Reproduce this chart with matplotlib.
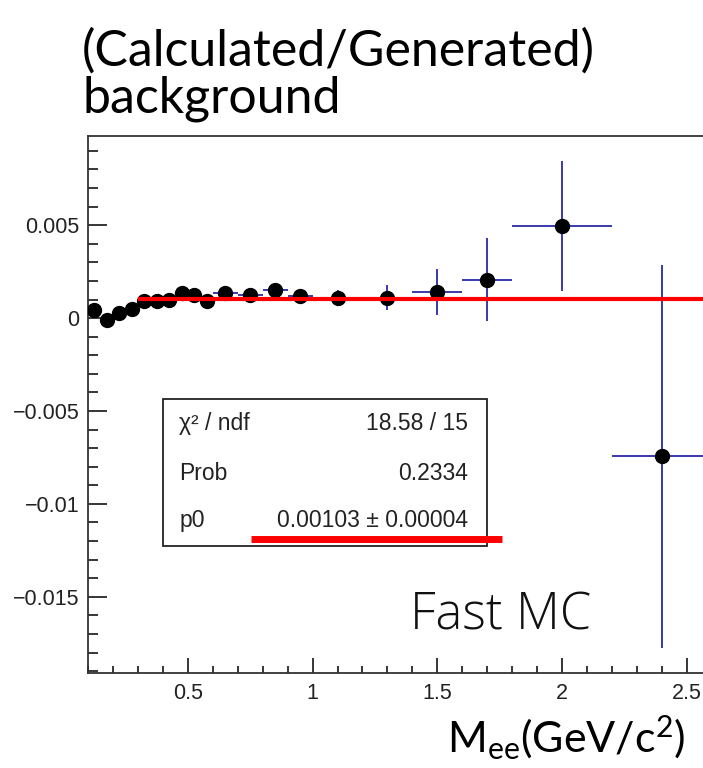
import numpy as np
import matplotlib
matplotlib.use('Agg')
import matplotlib.pyplot as plt
from matplotlib.lines import Line2D
from matplotlib.patches import Rectangle
from matplotlib.ticker import MultipleLocator, FixedLocator, FuncFormatter

# ==========================================
# data
# ==========================================
mass_centers = [0.125, 0.175, 0.225, 0.275, 0.325, 0.375, 0.425, 0.475, 0.525, 0.575,
                0.65, 0.75, 0.85, 0.95, 1.1, 1.3, 1.5, 1.7, 2.0, 2.4]
mass_halfwidth = [0.025] * 10 + [0.05] * 4 + [0.1] * 4 + [0.2] * 2
ratio = [0.00046, -0.00008, 0.00027, 0.00051, 0.00092, 0.00092, 0.00100, 0.00135, 0.00123, 0.00090,
         0.00133, 0.00123, 0.00150, 0.00117, 0.00110, 0.00110, 0.00140, 0.00207, 0.00496, -0.00744]
ratio_err = [0.0001, 0.0001, 0.0001, 0.0001, 0.00012, 0.00013, 0.00014, 0.00015, 0.00016, 0.00018,
             0.00038, 0.0003, 0.0003, 0.00033, 0.00043, 0.00068, 0.00124, 0.00223, 0.00348, 0.0103]

fit_range = [0.3, 2.6]
fit_p0 = 0.00103

stat_names = ['\u03c7\u00b2 / ndf', 'Prob', 'p0']
stat_values = ['18.58 / 15', '0.2334', '0.00103 \u00b1 0.00004']

x_major = [0.5, 1.0, 1.5, 2.0, 2.5]
y_major = [-0.015, -0.01, -0.005, 0.0, 0.005]

# ==========================================
# figure
# ==========================================
plt.rcParams['mathtext.fontset'] = 'custom'
plt.rcParams['mathtext.rm'] = 'Lato'
plt.rcParams['mathtext.it'] = 'Lato:italic'

W, H = 703, 768
fig = plt.figure(figsize=(W / 100, H / 100), dpi=100)
ax = fig.add_axes([88 / W, 95 / H, 623.75 / W, 537 / H])

ax.errorbar(mass_centers, ratio, xerr=mass_halfwidth, yerr=ratio_err, fmt='none',
            ecolor='#2a2aa8', elinewidth=1.3, capsize=0, zorder=2)
ax.plot(mass_centers, ratio, 'o', color='black', ms=10, zorder=3)
ax.plot(fit_range, [fit_p0, fit_p0], color='#ff0000', lw=3, solid_capstyle='butt', zorder=4)

ax.set_xlim(0.1, 2.6)
ax.set_ylim(-0.0191, 0.0098)

ax.xaxis.set_major_locator(FixedLocator(x_major))
ax.xaxis.set_minor_locator(MultipleLocator(0.1))
ax.yaxis.set_major_locator(FixedLocator(y_major))
ax.yaxis.set_minor_locator(MultipleLocator(0.001))
fmt = FuncFormatter(lambda v, p: ('%g' % round(v, 6)).replace('-', '\u2212'))
ax.xaxis.set_major_formatter(fmt)
ax.yaxis.set_major_formatter(fmt)

ax.tick_params(axis='x', which='major', direction='in', length=11, width=1.1, pad=7)
ax.tick_params(axis='x', which='minor', direction='in', length=5, width=1.1)
ax.tick_params(axis='y', which='major', direction='in', length=14, width=1.1, pad=6)
ax.tick_params(axis='y', which='minor', direction='in', length=7, width=1.1)
for lab in ax.get_xticklabels() + ax.get_yticklabels():
    lab.set_fontfamily(['Liberation Sans', 'DejaVu Sans'])
    lab.set_fontsize(15.5)
    lab.set_color('#222222')
for sp in ax.spines.values():
    sp.set_linewidth(1.3)
    sp.set_color('#333333')

# stat box
ax.add_patch(Rectangle((0.120, 0.2365), 0.520, 0.2735, transform=ax.transAxes,
                       facecolor='white', edgecolor='#222222', lw=1.3, zorder=5))
row_y = [0.4655, 0.3724, 0.2849]
for name, val, yy in zip(stat_names, stat_values, row_y):
    ax.text(0.146, yy, name, transform=ax.transAxes, ha='left', va='center', fontsize=16.5,
            family=['Liberation Sans', 'DejaVu Sans'], color='#222222', zorder=6)
    ax.text(0.609, yy, val, transform=ax.transAxes, ha='right', va='center', fontsize=16.5,
            family=['Liberation Sans', 'DejaVu Sans'], color='#222222', zorder=6)

# slide annotations
fig.add_artist(Line2D([251 / W, 502 / W], [1 - 539 / H, 1 - 539 / H], color='#ff0000', lw=5,
                      solid_capstyle='butt', transform=fig.transFigure))
fig.text(82 / W, 1 - 66 / H, '(Calculated/Generated)', ha='left', va='baseline',
         fontsize=36, family='Lato')
fig.text(82 / W, 1 - 112 / H, 'background', ha='left', va='baseline',
         fontsize=36, family='Lato')
fig.text(410 / W, 1 - 630 / H, 'Fast MC', ha='left', va='baseline', fontsize=36.5,
         family='Open Sans', weight='light', color='#111111')
fig.text(447 / W, 1 - 752 / H, r'M$_{\mathrm{ee}}$(GeV/c$^{2}$)', ha='left', va='baseline',
         fontsize=31, family='Lato')

fig.savefig('out.png', dpi=100)
